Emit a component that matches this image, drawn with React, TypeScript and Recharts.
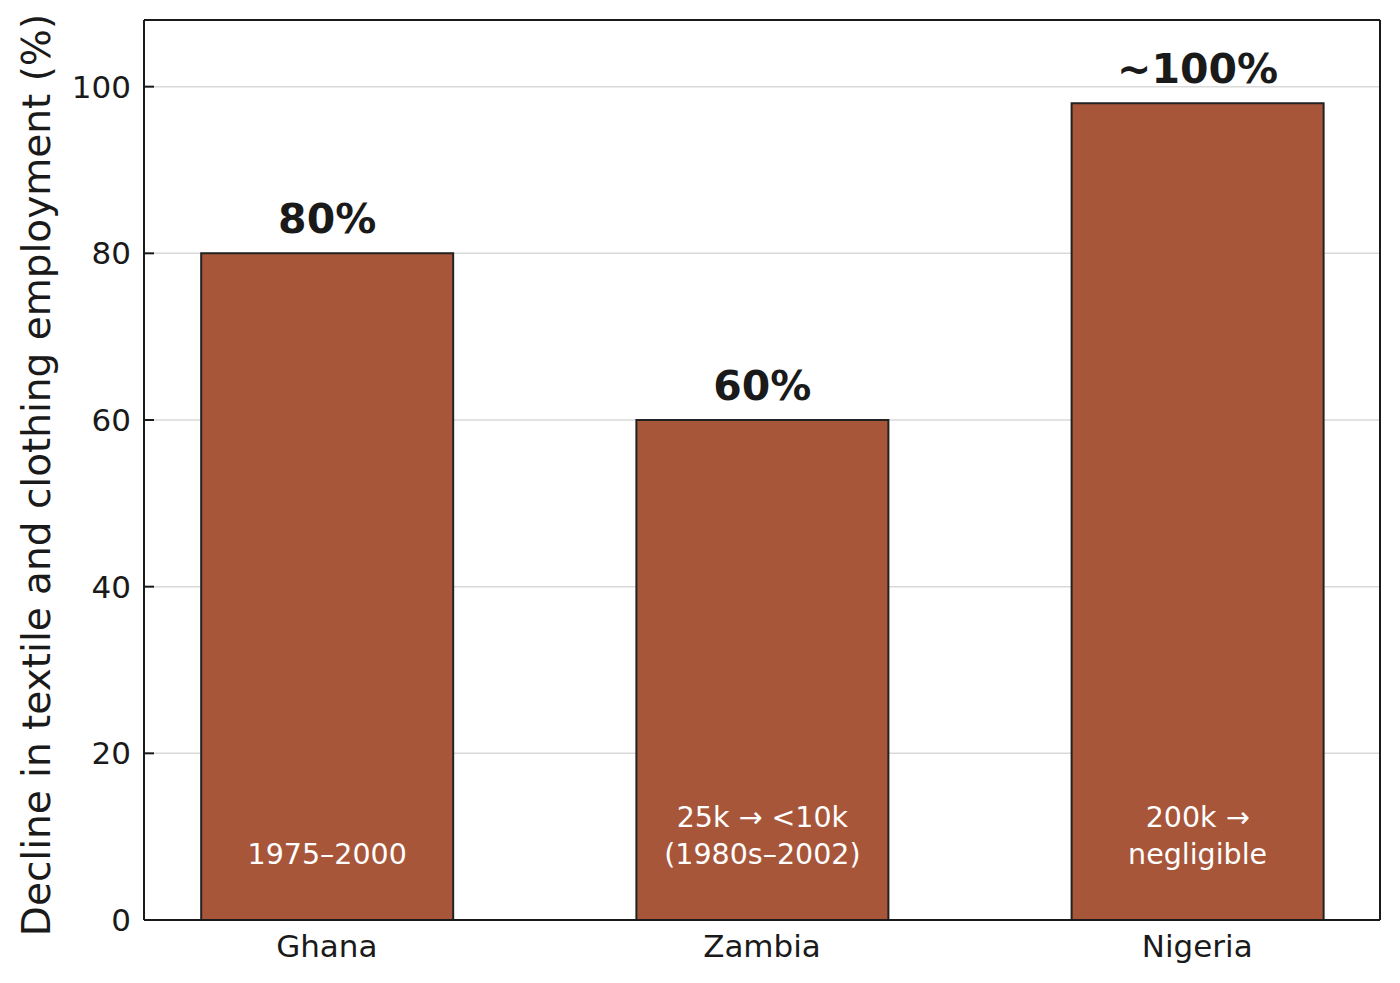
import React from "react";
import {
  BarChart, Bar, XAxis, YAxis, CartesianGrid, LabelList, Label, ReferenceLine,
} from "recharts";

const countries = ["Ghana", "Zambia", "Nigeria"];
const declines = [80, 60, 98];
const topLabels = ["80%", "60%", "~100%"];
const innerNotes = [["1975–2000"], ["25k → <10k", "(1980s–2002)"], ["200k →", "negligible"]];
const yTicks = [0, 20, 40, 60, 80, 100];
const xDomain = [-0.42, 2.42];
const yDomain = [0, 108];

const data = countries.map((c, i) => ({
  x: i,
  country: c,
  value: declines[i],
  top: topLabels[i],
  note: innerNotes[i],
}));

const FONT = "DejaVu Sans, sans-serif";
const INK = "#1a1a1a";

function YTick(props: any) {
  const { x, y, payload } = props;
  return (
    <g>
      <line x1={x + 13} x2={x + 23} y1={y} y2={y} stroke={INK} strokeWidth={2} />
      <text x={x} y={y} dy="0.36em" textAnchor="end" fontSize={31} fontFamily={FONT} fill={INK}>
        {payload.value}
      </text>
    </g>
  );
}

function TopLabel(props: any) {
  const { x, y, width, index } = props;
  return (
    <text x={x + width / 2} y={y - 20} textAnchor="middle" fontSize={41} fontWeight="bold" fontFamily={FONT} fill={INK}>
      {data[index].top}
    </text>
  );
}

function NoteLabel(props: any) {
  const { x, y, width, height, index } = props;
  const lines = data[index].note;
  const bottom = y + height;
  const cx = x + width / 2;
  return (
    <text textAnchor="middle" fontSize={28.5} fontFamily={FONT} fill="#ffffff">
      {lines.map((l, i) => (
        <tspan key={i} x={cx} y={bottom - 56 - (lines.length - 1 - i) * 37}>
          {l}
        </tspan>
      ))}
    </text>
  );
}

function YTitle() {
  return (
    <text
      x={42}
      y={467}
      transform="rotate(-90 42 467)"
      textAnchor="middle"
      fontSize={39}
      fontFamily={FONT}
      fill={INK}
    >
      Decline in textile and clothing employment (%)
    </text>
  );
}

export default function App() {
  return (
    <BarChart
      width={1392}
      height={975}
      data={data}
      margin={{ top: 12, right: 20, bottom: 0, left: 0 }}
      style={{ background: "#fff" }}
    >
      <CartesianGrid vertical={false} stroke="#d9d9d9" strokeWidth={1.5} />
      <XAxis
        dataKey="x"
        type="number"
        domain={xDomain}
        ticks={[0, 1, 2]}
        tickFormatter={(v: number) => countries[v]}
        height={63}
        tickSize={0}
        tickMargin={15}
        tickLine={false}
        axisLine={{ stroke: INK, strokeWidth: 2 }}
        tick={{ fontSize: 31, fontFamily: FONT, fill: INK }}
        interval={0}
        allowDataOverflow
      />
      <YAxis
        type="number"
        domain={yDomain}
        ticks={yTicks}
        width={136}
        tickSize={0}
        tickMargin={13}
        tickLine={false}
        axisLine={{ stroke: INK, strokeWidth: 2 }}
        tick={<YTick />}
        allowDataOverflow
      >
        <Label content={<YTitle />} />
      </YAxis>
      <Bar
        dataKey="value"
        barSize={252}
        fill="#a8563a"
        stroke="#222222"
        strokeWidth={2}
        isAnimationActive={false}
      >
        <LabelList dataKey="top" content={<TopLabel />} />
        <LabelList dataKey="value" content={<NoteLabel />} />
      </Bar>
      <ReferenceLine y={yDomain[1]} stroke={INK} strokeWidth={2} ifOverflow="visible" />
      <ReferenceLine x={xDomain[1]} stroke={INK} strokeWidth={2} ifOverflow="visible" />
    </BarChart>
  );
}
